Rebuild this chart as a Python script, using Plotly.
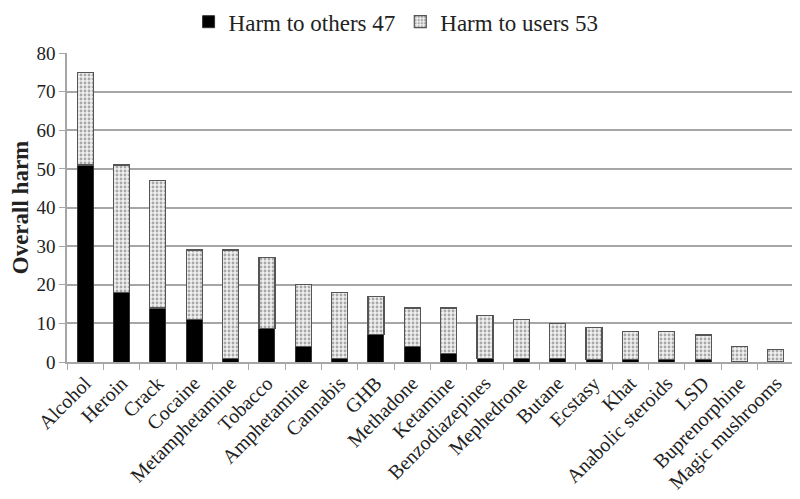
import plotly.graph_objects as go

drugs = ["Alcohol", "Heroin", "Crack", "Cocaine", "Metamphetamine", "Tobacco",
         "Amphetamine", "Cannabis", "GHB", "Methadone", "Ketamine",
         "Benzodiazepines", "Mephedrone", "Butane", "Ecstasy", "Khat",
         "Anabolic steroids", "LSD", "Buprenorphine", "Magic mushrooms"]
totals = [75, 51, 47, 29, 29, 27, 20, 18, 17, 14, 14, 12, 11, 10, 9, 8, 8, 7, 4, 3.2]
harm_others = [51, 18, 14, 11, 1, 8.7, 4, 1, 7.2, 4, 2.2, 1, 1, 1, 0.7, 0.6, 0.6, 0.6, 0, 0]
harm_users = [round(t - o, 2) for t, o in zip(totals, harm_others)]
y_ticks = [0, 10, 20, 30, 40, 50, 60, 70, 80]

FONT = "Liberation Serif"

fig = go.Figure()
fig.add_trace(go.Bar(
    x=drugs, y=harm_others, name="Harm to others 47",
    marker=dict(color="#000000", line=dict(color="#333333", width=1)),
))
fig.add_trace(go.Bar(
    x=drugs, y=harm_users, name="Harm to users 53",
    marker=dict(color="#f0f0f0", line=dict(color="#555555", width=1.2),
                pattern=dict(shape=".", fgcolor="#606060", bgcolor="#f0f0f0",
                             size=4, solidity=0.4)),
))

fig.update_layout(
    barmode="stack",
    bargap=0.56,
    width=792, height=491,
    margin=dict(l=59, r=6, t=45, b=137),
    paper_bgcolor="white", plot_bgcolor="white",
    font=dict(family=FONT, color="#222222", size=19),
    legend=dict(orientation="h", xref="container", x=0.49, xanchor="center",
                yref="container", y=0.972, yanchor="middle",
                font=dict(size=23, family=FONT), traceorder="normal",
                itemwidth=30),
    yaxis=dict(
        range=[0, 80], tickvals=y_ticks, showgrid=True, gridcolor="#a6a6a6", gridwidth=1.5,
        showline=True, linecolor="#a6a6a6", linewidth=1.5,
        ticks="outside", ticklen=6, tickcolor="#a6a6a6",
        tickfont=dict(size=19, family=FONT),
        title=dict(text="<b>Overall harm</b>", font=dict(size=23, family=FONT), standoff=3),
        zeroline=False, automargin=False,
    ),
    xaxis=dict(
        tickangle=-45, tickson="boundaries", ticks="outside", ticklen=6, tickcolor="#a6a6a6",
        showline=True, linecolor="#a6a6a6", linewidth=1.5,
        tickfont=dict(size=20, family=FONT), automargin=False,
    ),
)

fig.write_html("out.html")
